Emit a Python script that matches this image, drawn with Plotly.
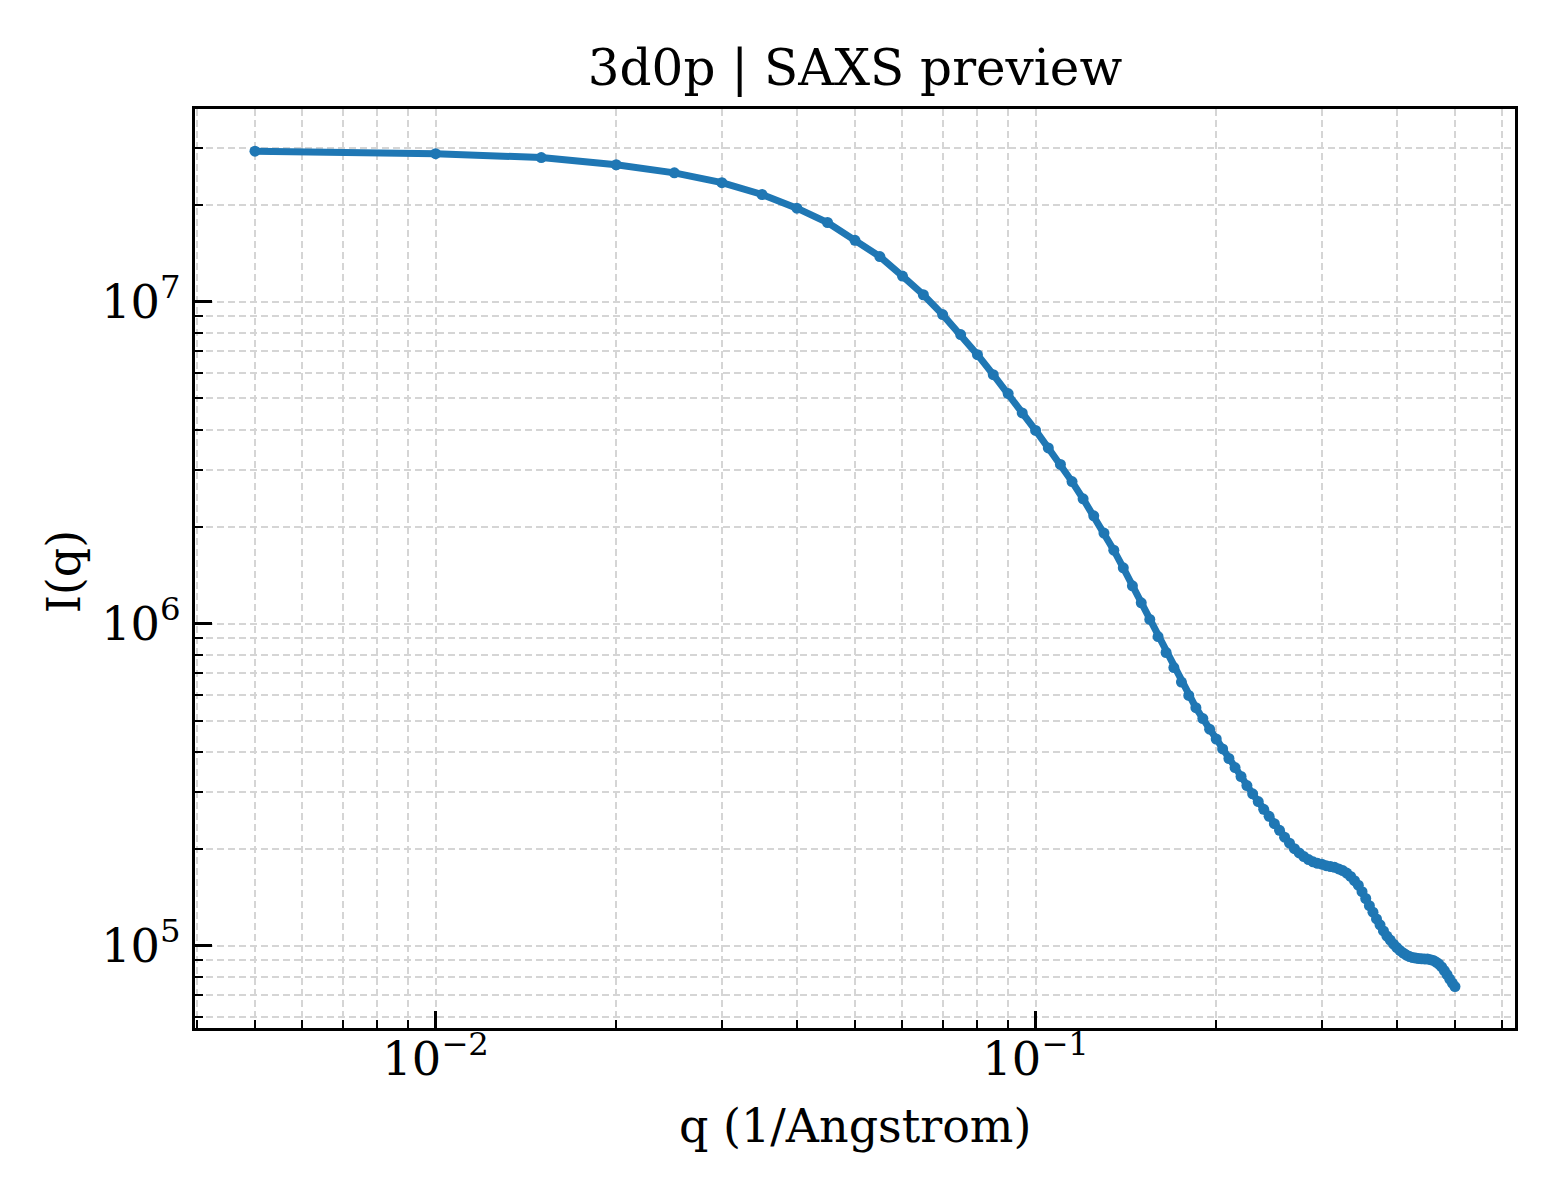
import plotly.graph_objects as go

# q grid of the SAXS preview (1/Angstrom)
q_values = [
    0.005, 0.010, 0.015, 0.020, 0.025, 0.030, 0.035, 0.040, 0.045, 0.050,
    0.055, 0.060, 0.065, 0.070, 0.075, 0.080, 0.085, 0.090, 0.095, 0.100,
    0.105, 0.110, 0.115, 0.120, 0.125, 0.130, 0.135, 0.140, 0.145, 0.150,
    0.155, 0.160, 0.165, 0.170, 0.175, 0.180, 0.185, 0.190, 0.195, 0.200,
    0.205, 0.210, 0.215, 0.220, 0.225, 0.230, 0.235, 0.240, 0.245, 0.250,
    0.255, 0.260, 0.265, 0.270, 0.275, 0.280, 0.285, 0.290, 0.295, 0.300,
    0.305, 0.310, 0.315, 0.320, 0.325, 0.330, 0.335, 0.340, 0.345, 0.350,
    0.355, 0.360, 0.365, 0.370, 0.375, 0.380, 0.385, 0.390, 0.395, 0.400,
    0.405, 0.410, 0.415, 0.420, 0.425, 0.430, 0.435, 0.440, 0.445, 0.450,
    0.455, 0.460, 0.465, 0.470, 0.475, 0.480, 0.485, 0.490, 0.495, 0.500,
]

# intensity
intensity = [
    2.93e7, 2.88e7, 2.80e7, 2.66e7, 2.51e7, 2.34e7, 2.15e7, 1.95e7, 1.76e7, 1.55e7,
    1.38e7, 1.20e7, 1.05e7, 9.11e6, 7.90e6, 6.84e6, 5.93e6, 5.18e6, 4.51e6, 3.98e6,
    3.51e6, 3.12e6, 2.76e6, 2.44e6, 2.16e6, 1.91e6, 1.69e6, 1.49e6, 1.31e6, 1.16e6,
    1.03e6, 9.11e5, 8.13e5, 7.30e5, 6.58e5, 5.98e5, 5.48e5, 5.07e5, 4.70e5, 4.38e5,
    4.08e5, 3.81e5, 3.57e5, 3.35e5, 3.14e5, 2.96e5, 2.80e5, 2.65e5, 2.52e5, 2.39e5,
    2.28e5, 2.17e5, 2.08e5, 2.00e5, 1.94e5, 1.89e5, 1.85e5, 1.82e5, 1.80e5, 1.79e5,
    1.77e5, 1.76e5, 1.75e5, 1.73e5, 1.71e5, 1.68e5, 1.64e5, 1.59e5, 1.54e5, 1.47e5,
    1.40e5, 1.33e5, 1.27e5, 1.21e5, 1.16e5, 1.11e5, 1.07e5, 1.04e5, 1.01e5, 9.86e4,
    9.65e4, 9.48e4, 9.34e4, 9.24e4, 9.18e4, 9.15e4, 9.11e4, 9.10e4, 9.09e4, 9.08e4,
    9.04e4, 8.99e4, 8.89e4, 8.76e4, 8.58e4, 8.36e4, 8.13e4, 7.87e4, 7.65e4, 7.46e4,
]

title = "3d0p | SAXS preview"
x_label = "q (1/Angstrom)"
y_label = "I(q)"

FONT = "DejaVu Serif"
GRID = "#d5d5d5"
DASH = "7px,4px"

fig = go.Figure()
fig.add_trace(go.Scatter(
    x=q_values, y=intensity, mode="lines+markers",
    line=dict(color="#1f77b4", width=7),
    marker=dict(color="#1f77b4", size=11),
    showlegend=False,
))

axis_common = dict(
    type="log", dtick=1, exponentformat="power",
    showline=True, mirror=True, linecolor="black", linewidth=3,
    ticks="inside", ticklen=17, tickwidth=3, tickcolor="black",
    tickfont=dict(family=FONT, size=37, color="black"),
    showgrid=True, gridcolor=GRID, gridwidth=2, griddash=DASH,
    minor=dict(ticks="inside", ticklen=8, tickwidth=2, tickcolor="black",
               showgrid=True, gridcolor=GRID, gridwidth=2, griddash=DASH),
    zeroline=False,
)

fig.update_xaxes(**axis_common, range=[-2.401, -0.201], ticklabelstandoff=-10)
fig.update_yaxes(**axis_common, range=[4.744, 7.598], ticklabelstandoff=4)

# axis titles placed as annotations for exact position
fig.add_annotation(text=x_label, xref="paper", yref="paper", x=0.5, y=-0.1066,
                   xanchor="center", yanchor="middle", showarrow=False,
                   font=dict(family=FONT, size=46, color="black"))
fig.add_annotation(text=y_label, xref="paper", yref="paper", x=-0.0992, y=0.497,
                   xanchor="center", yanchor="middle", showarrow=False, textangle=-90,
                   font=dict(family=FONT, size=46, color="black"))

# page body has an 8px margin, so margins are shifted by that amount
fig.update_layout(
    width=1560, height=1200,
    margin=dict(l=187, r=53, t=101, b=180, autoexpand=False),
    paper_bgcolor="white", plot_bgcolor="white",
    title=dict(text=title, x=0.5, xref="paper", y=1 - 59 / 1200, yanchor="middle",
               font=dict(family=FONT, size=50, color="black")),
    font=dict(family=FONT, color="black"),
)

fig.write_html("out.html")
